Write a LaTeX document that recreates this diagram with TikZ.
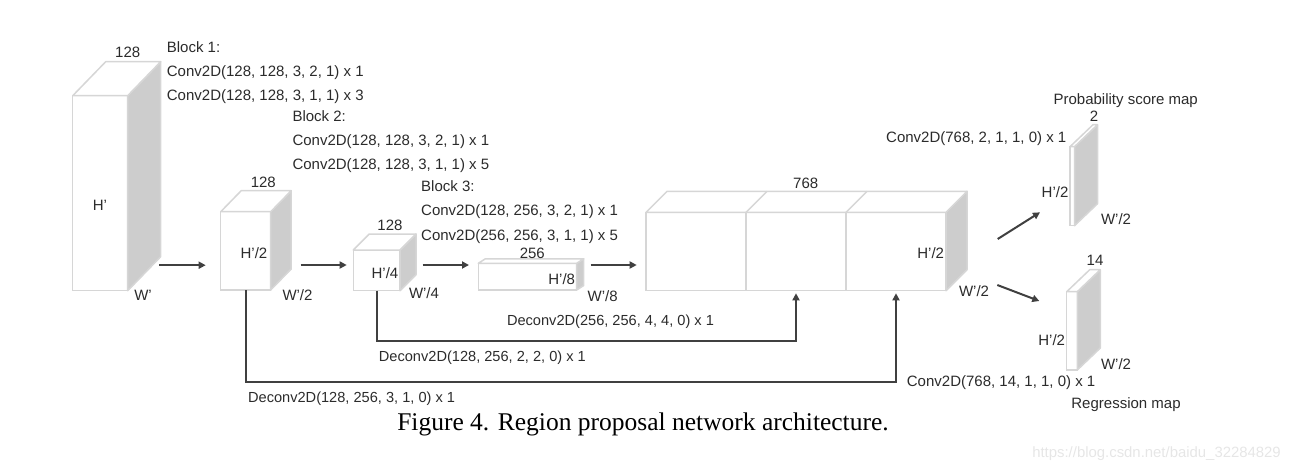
\documentclass[tikz,border=0pt]{standalone}
\usepackage{fontspec}
\setmainfont{Liberation Sans}
\newfontfamily\capfont{Liberation Serif}
\usetikzlibrary{arrows.meta,calc}
\definecolor{edgec}{HTML}{D6D6D6}
\definecolor{sidec}{HTML}{CDCDCD}
\definecolor{arrc}{HTML}{404040}
\definecolor{txtc}{HTML}{2B2B2B}
\definecolor{wmc}{HTML}{E6E6E6}
\tikzset{
  face/.style={draw=edgec, line width=1.5pt, fill=white, inner sep=0pt, outer sep=0pt},
  edge/.style={draw=edgec, line width=1.5pt, line join=round},
  sidef/.style={fill=sidec},
  arr/.style={draw=arrc, line width=2pt, -{Triangle[length=7pt,width=7pt]}},
  lbl/.style={inner sep=0pt, anchor=base, text=txtc, font=\fontsize{15}{18}\selectfont},
  lbll/.style={lbl, anchor=base west},
}
% name, x, y (top-left of front face), width, height, depth dx, depth dy (up)
\newcommand\cuboid[7]{%
  \node[face, minimum width=#4pt, minimum height=#5pt, anchor=north west] (#1) at (#2,#3) {};
  \filldraw[sidef, edge] (#1.north east) -- ++(#6,-#7) -- ++(0,#5) -- (#1.south east) -- cycle;
  \filldraw[fill=white, edge] (#1.north west) -- ++(#6,-#7) -- ++(#4,0) -- (#1.north east) -- cycle;
}
\begin{document}
\begin{tikzpicture}[x=1pt,y=-1pt]
\useasboundingbox (0,0) rectangle (1290,471);

% ---- volumes
\cuboid{b1}{72.7}{95.7}{55}{195}{33}{34}
\cuboid{b2}{220.7}{211.7}{50}{78.3}{20.5}{21}
\cuboid{b3}{353.3}{250}{46.7}{40.7}{16}{16}
\cuboid{b4}{478.3}{263.3}{98.4}{26.7}{7}{4.5}
\cuboid{sl1}{1070}{146.7}{4.5}{79}{23}{22}
\cuboid{sl2}{1066.7}{291.7}{10.6}{78.3}{23}{22}

% concatenated 768 volume
\node[face, minimum width=100pt, minimum height=78.4pt, anchor=north west] (c1) at (646,212.3) {};
\node[face, minimum width=100pt, minimum height=78.4pt, anchor=north west] (c2) at (c1.north east) {};
\node[face, minimum width=100pt, minimum height=78.4pt, anchor=north west] (c3) at (c2.north east) {};
\filldraw[sidef, edge] (c3.north east) -- ++(21,-21) -- ++(0,78.4) -- (c3.south east) -- cycle;
\filldraw[fill=white, edge] (c1.north west) -- ++(21,-21) -- ++(300,0) -- (c3.north east) -- cycle;
\draw[edge] (c2.north west) -- ++(21,-21);
\draw[edge] (c3.north west) -- ++(21,-21);

% ---- forward arrows
\coordinate (a1s) at ([shift={(31.6,-25.5)}]b1.south east);
\draw[arr, shorten >=15pt] (a1s) -- (a1s -| b2.west);
\coordinate (a2s) at ([shift={(30,-25)}]b2.south east);
\draw[arr, shorten >=6.6pt] (a2s) -- (a2s -| b3.west);
\coordinate (a3s) at ([shift={(22.7,-25.7)}]b3.south east);
\draw[arr, shorten >=9.3pt] (a3s) -- (a3s -| b4.west);
\coordinate (a4s) at ([shift={(14,-25)}]b4.south east);
\draw[arr, shorten >=9.3pt] (a4s) -- (a4s -| c1.west);
\draw[arr] ([shift={(51.7,-51.7)}]c3.south east) -- ([shift={(-30,-13.4)}]sl1.south west);
\draw[arr] ([shift={(51.3,-5.7)}]c3.south east) -- ([shift={(-27.4,9.3)}]sl2.north west);

% ---- skip connections
\draw[arr] (b3.south) -- ++(0,50.3) -| ([yshift=-2.6pt]c2.south);
\draw[arr] (b2.south) -- ++(0,91.7) -| ([yshift=-2.6pt]c3.south);

% ---- volume labels
\node[lbl] (t128a) at (127.7,57) {128};
\node[lbl] (th1) at (100,210.5) {H’};
\node[lbl] (tw1) at (143,300.5) {W’};
\node[lbl] (t128b) at (263.3,187.8) {128};
\node[lbl] (th2) at (254,258) {H’/2};
\node[lbl] (tw2) at (297.5,300.5) {W’/2};
\node[lbl] (t128c) at (390,230.5) {128};
\node[lbl] (th4) at (385,278.8) {H’/4};
\node[lbl] (tw4) at (424,298) {W’/4};
\node[lbl] (t256) at (532.3,258.8) {256};
\node[lbl] (th8) at (561.7,284.5) {H’/8};
\node[lbl] (tw8) at (602.7,301.5) {W’/8};
\node[lbl] (t768) at (805.7,188.2) {768};
\node[lbl] (thc) at (930.7,258.8) {H’/2};
\node[lbl] (twc) at (974,296.2) {W’/2};
\node[lbl] (tprob) at (1125.7,104.8) {Probability score map};
\node[lbl] (t2) at (1094,121.5) {2};
\node[lbl] (ths1) at (1055,197.8) {H’/2};
\node[lbl] (tws1) at (1116,224.8) {W’/2};
\node[lbl] (t14) at (1095,265.5) {14};
\node[lbl] (ths2) at (1051.7,345.5) {H’/2};
\node[lbl] (tws2) at (1116,369.5) {W’/2};
\node[lbl] (treg) at (1126,408.2) {Regression map};

% ---- block / layer texts
\node[lbll] (bk1) at (166.7,52.2) {Block 1:};
\node[lbll] (bk1a) at (166.7,76.2) {Conv2D(128, 128, 3, 2, 1) x 1};
\node[lbll] (bk1b) at (166.7,100) {Conv2D(128, 128, 3, 1, 1) x 3};
\node[lbll] (bk2) at (292.3,121.5) {Block 2:};
\node[lbll] (bk2a) at (292.3,145.5) {Conv2D(128, 128, 3, 2, 1) x 1};
\node[lbll] (bk2b) at (292.3,169.5) {Conv2D(128, 128, 3, 1, 1) x 5};
\node[lbll] (bk3) at (421,191.5) {Block 3:};
\node[lbll] (bk3a) at (421,215.5) {Conv2D(128, 256, 3, 2, 1) x 1};
\node[lbll] (bk3b) at (421,240.5) {Conv2D(256, 256, 3, 1, 1) x 5};
\node[lbll] (cvp) at (886,142.8) {Conv2D(768, 2, 1, 1, 0) x 1};
\node[lbll] (cvr) at (906.7,386.2) {Conv2D(768, 14, 1, 1, 0) x 1};
\node[lbll, font=\fontsize{14.6}{18}\selectfont] (dc1) at (506.8,325.5) {Deconv2D(256, 256, 4, 4, 0) x 1};
\node[lbll, font=\fontsize{14.6}{18}\selectfont] (dc2) at (378.7,361.5) {Deconv2D(128, 256, 2, 2, 0) x 1};
\node[lbll, font=\fontsize{14.6}{18}\selectfont] (dc3) at (247.9,402.2) {Deconv2D(128, 256, 3, 1, 0) x 1};

% ---- caption and watermark
\node[inner sep=0pt, anchor=base, font=\capfont\fontsize{25.5}{30}\selectfont] (cap) at (643,430) {Figure 4. Region proposal network architecture.};
\node[inner sep=0pt, anchor=base east, text=wmc, font=\fontsize{14.9}{18}\selectfont] (wm) at (1281,457) {https://blog.csdn.net/baidu\_32284829};
\end{tikzpicture}
\end{document}
